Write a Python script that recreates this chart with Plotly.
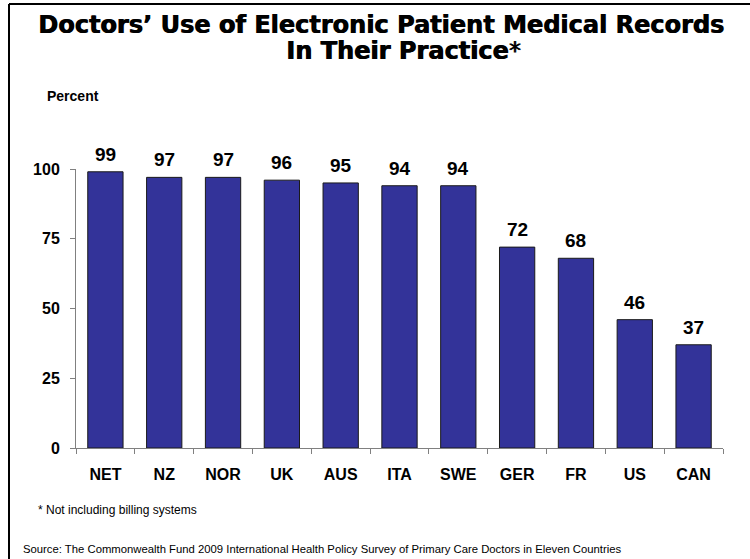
import plotly.graph_objects as go

countries = ["NET", "NZ", "NOR", "UK", "AUS", "ITA", "SWE", "GER", "FR", "US", "CAN"]
percent = [99, 97, 97, 96, 95, 94, 94, 72, 68, 46, 37]
y_ticks = [0, 25, 50, 75, 100]

W, H = 750, 559
L, R, T, B = 76, 27, 169, 111
PW, PH = W - L - R, H - T - B

def px(x):
    return (x - L) / PW

def py(y):
    return (H - B - y) / PH

FONT = "Liberation Sans, Arial, sans-serif"
TFONT = "Arial Black, DejaVu Sans, sans-serif"

fig = go.Figure()
fig.add_trace(go.Bar(
    x=countries, y=percent, width=0.6,
    marker=dict(color="#333399", line=dict(color="#1a1a1a", width=1)),
    hoverinfo="skip",
))

annotations = []
for c, v in zip(countries, percent):
    annotations.append(dict(
        x=c, y=v, xref="x", yref="y", text=f"<b>{v}</b>", showarrow=False,
        yanchor="bottom", yshift=5,
        font=dict(family=FONT, size=19, color="black"),
    ))

annotations += [
    dict(x=px(381), y=py(25), xref="paper", yref="paper",
         text="<b>Doctors’ Use of Electronic Patient Medical Records</b>",
         showarrow=False, xanchor="center", yanchor="middle",
         font=dict(family=TFONT, size=24, color="black", shadow="0.8px 0 0 black")),
    dict(x=px(403), y=py(51), xref="paper", yref="paper",
         text="<b>In Their Practice</b>*",
         showarrow=False, xanchor="center", yanchor="middle",
         font=dict(family=TFONT, size=24, color="black", shadow="0.8px 0 0 black")),
    dict(x=px(73), y=py(96), xref="paper", yref="paper",
         text="<b>Percent</b>", showarrow=False, xanchor="center", yanchor="middle",
         font=dict(family=FONT, size=14, color="black")),
    dict(x=px(36), y=py(510), xref="paper", yref="paper",
         text="* Not including billing systems", showarrow=False,
         xanchor="left", yanchor="middle",
         font=dict(family=FONT, size=12, color="black")),
    dict(x=px(21), y=py(549), xref="paper", yref="paper",
         text="Source: The Commonwealth Fund 2009 International Health Policy Survey of Primary Care Doctors in Eleven Countries",
         showarrow=False, xanchor="left", yanchor="middle",
         font=dict(family=FONT, size=11.3, color="black")),
]

shapes = [
    dict(type="line", xref="paper", yref="paper", x0=px(9), x1=px(752), y0=py(4), y1=py(4),
         line=dict(color="black", width=2)),
    dict(type="line", xref="paper", yref="paper", x0=px(9), x1=px(9), y0=py(4), y1=py(562),
         line=dict(color="black", width=2)),
]

fig.update_layout(
    width=W, height=H,
    margin=dict(l=L, r=R, t=T, b=B),
    paper_bgcolor="white", plot_bgcolor="white",
    showlegend=False,
    annotations=annotations, shapes=shapes,
    bargap=0.4,
    xaxis=dict(
        type="category", tickson="boundaries", ticks="outside", ticklen=5,
        tickcolor="#808080", showline=True, linecolor="#808080", linewidth=1,
        showgrid=False, zeroline=False, ticklabelstandoff=12,
        tickfont=dict(family=FONT, size=16, color="black", weight="bold"),
    ),
    yaxis=dict(
        range=[0, 100], tickvals=y_ticks, ticktext=[str(t) for t in y_ticks],
        ticks="outside", ticklen=5, tickcolor="#808080",
        showline=True, linecolor="#808080", linewidth=1,
        showgrid=False, zeroline=False, ticklabelstandoff=7,
        tickfont=dict(family=FONT, size=16, color="black", weight="bold"),
    ),
)

fig.write_html(
    "out.html",
    config={"displayModeBar": False},
    post_script="document.body.style.margin='0';document.body.style.overflow='hidden';",
)
